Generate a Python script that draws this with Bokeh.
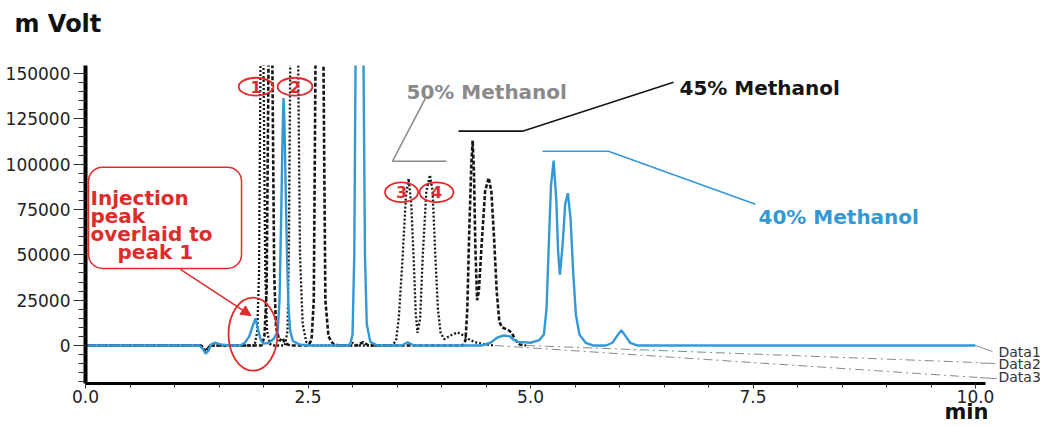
from bokeh.plotting import figure
from bokeh.models import (Range1d, FixedTicker, PrintfTickFormatter, Label, Title,
                          BoxAnnotation, Arrow, NormalHead)
from bokeh.embed import file_html
from bokeh.resources import INLINE

# ---------------- data ----------------
# Data1 : 40% Methanol (blue, solid)
time_40 = [0.00, 1.28, 1.32, 1.35, 1.38, 1.41, 1.45, 1.52, 1.62,
           1.74, 1.79, 1.84, 1.88, 1.91, 1.94, 1.97, 2.00, 2.06, 2.12, 2.16, 2.18,
           2.20, 2.215, 2.225, 2.235, 2.25, 2.265, 2.28, 2.30, 2.33, 2.40, 2.50,
           2.97, 3.00, 3.02, 3.034, 3.06, 3.08, 3.10, 3.124, 3.14, 3.16, 3.20, 3.28,
           3.55, 3.62, 3.69,
           4.45, 4.55, 4.63, 4.70, 4.77, 4.80, 4.86, 5.00, 5.10,
           5.15, 5.18, 5.20, 5.23, 5.26, 5.29, 5.31, 5.33, 5.36, 5.39, 5.42, 5.45,
           5.48, 5.51, 5.55, 5.62, 5.70,
           5.85, 5.92, 5.97, 6.02, 6.07, 6.12, 6.20, 10.00]
signal_40 = [0, 0, -2000, -4500, -3000, 500, 1500, 600, 0,
             0, 1500, 5000, 11000, 15000, 8500, 3000, 1000, 1500, 4000, 8000, 25000,
             75000, 118000, 136500, 124000, 85000, 48000, 22000, 8000, 2500, 600, 0,
             0, 6000, 50000, 154000, 340000, 400000, 340000, 154000, 50000, 12000, 2000, 0,
             0, 1800, 0,
             0, 1500, 4500, 5500, 5000, 3500, 2000, 1500, 3000,
             6000, 20000, 48000, 88000, 102000, 80000, 52000, 39000, 55000, 78000, 84000, 70000,
             40000, 17000, 6000, 1500, 0,
             0, 1500, 5000, 8500, 5000, 1500, 0, 0]

# Data2 : 45% Methanol (black, dashed)
time_45 = [0.00, 1.30, 1.35, 1.40, 1.98, 2.01, 2.035, 2.056, 2.078, 2.10, 2.12, 2.14,
           2.18, 2.21, 2.25, 2.30,
           2.50, 2.54, 2.565, 2.584, 2.63, 2.674, 2.695, 2.73, 2.78, 2.85, 3.05, 3.12, 3.18,
           4.24, 4.27, 4.29, 4.31, 4.335, 4.35, 4.365, 4.38, 4.40, 4.42, 4.45, 4.49,
           4.53, 4.56, 4.59, 4.62, 4.65, 4.68, 4.75, 4.79, 4.83, 4.88, 4.95, 10.02]
signal_45 = [0, 0, -3500, 0, 0, 5000, 30000, 154000, 300000, 154000, 40000, 10000,
             2500, 4000, 1000, 0,
             0, 3000, 25000, 154000, 350000, 154000, 25000, 5000, 1000, 0, 0, 1800, 0,
             0, 3000, 20000, 60000, 100000, 113000, 95000, 55000, 25000, 30000, 55000, 85000,
             92500, 85000, 60000, 30000, 13000, 10000, 8500, 7000, 3000, 500, 0, -9400]

# Data3 : 50% Methanol (black, dotted)
time_50 = [0.00, 1.30, 1.35, 1.40, 1.90, 1.93, 1.95, 1.966, 1.985, 2.00, 2.02, 2.04,
           2.07, 2.10,
           2.24, 2.27, 2.285, 2.30, 2.345, 2.39, 2.41, 2.44, 2.48, 2.55, 2.95, 3.00, 3.05,
           3.45, 3.49, 3.52, 3.56, 3.60, 3.63, 3.66, 3.69, 3.71, 3.73, 3.76, 3.79,
           3.83, 3.87, 3.90, 3.93, 3.96, 3.99, 4.03, 4.10, 4.18, 4.25, 4.32, 4.40,
           4.50, 4.60, 10.02]
signal_50 = [0, 0, -3000, 0, 0, 8000, 40000, 154000, 260000, 154000, 40000, 8000,
             1000, 0,
             0, 8000, 50000, 154000, 300000, 154000, 50000, 12000, 2000, 0, 0, 1500, 0,
             0, 3000, 15000, 46000, 82000, 92000, 78000, 45000, 18000, 7000, 15000, 50000,
             85000, 94000, 85000, 50000, 20000, 7000, 3500, 5500, 7200, 5500, 3000, 1500,
             500, 0, -17600]

series_names = ["Data1", "Data2", "Data3"]
legend_texts = ["40% Methanol", "45% Methanol", "50% Methanol"]
x_tick_values = [0.0, 2.5, 5.0, 7.5, 10.0]
y_tick_values = [0, 25000, 50000, 75000, 100000, 125000, 150000]

# ---------------- styles ----------------
BLUE = "#3399d6"
BLACK = "#151515"
GRAY = "#8a8a8a"
RED = "#e02b2b"
FONT = "DejaVu Sans"

tail_start_45 = 4.95
tail_start_50 = 4.60

p = figure(width=1054, height=427,
           x_range=Range1d(0, 969 / 89), y_range=Range1d(-20960, 154400),
           output_backend="svg", toolbar_location=None,
           min_border_left=85, min_border_right=0,
           min_border_top=65, min_border_bottom=44)
p.outline_line_color = None
p.grid.visible = False
p.background_fill_color = "white"

# axes
xax = p.xaxis[0]
yax = p.yaxis[0]
xax.ticker = FixedTicker(ticks=x_tick_values,
                         minor_ticks=[i * 0.5 for i in range(21)])
xax.formatter = PrintfTickFormatter(format="%.1f")
xax.bounds = (0, 10.11)
xax.axis_line_width = 3
xax.axis_line_color = "black"
xax.major_tick_out = 5
xax.major_tick_in = 0
xax.minor_tick_out = 4
xax.minor_tick_in = 0
xax.major_label_standoff = 1

yax.ticker = FixedTicker(ticks=y_tick_values,
                         minor_ticks=[-20000 + 5000 * i for i in range(35)])
yax.formatter = PrintfTickFormatter(format="%d")
yax.axis_line_width = 4
yax.axis_line_color = "black"
yax.major_tick_out = 12
yax.major_tick_in = 0
yax.minor_tick_out = 7
yax.minor_tick_in = 0
yax.major_label_standoff = 3

for ax in (xax, yax):
    ax.major_tick_line_color = "#333333"
    ax.minor_tick_line_color = "#333333"
    ax.major_label_text_font = FONT
    ax.major_label_text_font_size = "17px"
    ax.major_label_text_color = "#222222"

# titles: spacer (next to frame) then "m Volt" above it; "min" below-right
p.add_layout(Title(text=" ", text_font_size="2px", standoff=18), "above")
p.add_layout(Title(text="m Volt", align="left", offset=-71, standoff=12,
                   text_font=FONT, text_font_style="bold", text_font_size="24px",
                   text_color="#111111"), "above")
p.add_layout(Title(text="min", align="right", offset=66, standoff=-14,
                   vertical_align="middle",
                   text_font=FONT, text_font_style="bold", text_font_size="21px",
                   text_color="#111111"), "below")


def split(ts, vs, start):
    i = ts.index(start)
    return ts[:i + 1], vs[:i + 1], ts[i:], vs[i:]


m45t, m45v, t45t, t45v = split(time_45, signal_45, tail_start_45)
m50t, m50v, t50t, t50v = split(time_50, signal_50, tail_start_50)

# baseline drift tails (thin dash-dot gray)
p.line(t50t, t50v, line_color="#888888", line_width=1, line_dash="9 4 2 4")
p.line(t45t, t45v, line_color="#888888", line_width=1, line_dash="9 4 2 4")

# traces
p.line(m50t, m50v, line_color=BLACK, line_width=2.3, line_dash="2 2")
p.line(m45t, m45v, line_color=BLACK, line_width=2.6, line_dash="4 2")
p.line(time_40, signal_40, line_color=BLUE, line_width=2.4)

# leaders to Data labels
p.line([time_40[-1], 10.19], [signal_40[-1], -3300], line_color="#888888", line_width=1)
p.line([10.05, 10.22], [-9700, -9900], line_color="#888888", line_width=1)
p.line([10.05, 10.24], [-17700, -18300], line_color="#888888", line_width=1)

data_label_y = [-3860, -10480, -17300]
for name, yy in zip(series_names, data_label_y):
    p.add_layout(Label(x=10.258, y=yy, text=name, text_font=FONT,
                       text_font_size="14px", text_color="#333333",
                       text_baseline="middle"))

# methanol annotations
p.line([3.820, 3.449, 4.056], [136400, 101600, 101600], line_color=GRAY, line_width=1.6)
p.line([6.607, 4.910, 4.191], [145200, 118200, 118200], line_color=BLACK, line_width=1.6)
p.line([5.135, 5.876, 7.528], [107100, 107100, 77900], line_color=BLUE, line_width=1.6)

p.add_layout(Label(x=3.607, y=139700, text=legend_texts[2], text_font=FONT,
                   text_font_style="bold", text_font_size="20px", text_color=GRAY,
                   text_baseline="alphabetic"))
p.add_layout(Label(x=6.674, y=142200, text=legend_texts[1], text_font=FONT,
                   text_font_style="bold", text_font_size="20px", text_color=BLACK,
                   text_baseline="alphabetic"))
p.add_layout(Label(x=7.562, y=70700, text=legend_texts[0], text_font=FONT,
                   text_font_style="bold", text_font_size="20px", text_color=BLUE,
                   text_baseline="alphabetic"))

# injection callout
p.add_layout(BoxAnnotation(left=0.034, right=1.753, top=98300, bottom=42500,
                           fill_color=None, fill_alpha=0, line_color=RED,
                           line_alpha=1.0, line_width=1.5, border_radius=14))
callout = [("Injection", 0.056, 81200), ("peak", 0.056, 71200),
           ("overlaid to", 0.056, 61300), ("peak 1", 0.36, 51400)]
for txt, xx, yy in callout:
    p.add_layout(Label(x=xx, y=yy, text=txt, text_font=FONT, text_font_style="bold",
                       text_font_size="20px", text_color=RED,
                       text_baseline="alphabetic"))
p.add_layout(Arrow(end=NormalHead(size=10, fill_color=RED, line_color=RED),
                   x_start=1.067, y_start=42000, x_end=1.86, y_end=16500,
                   line_color=RED, line_width=1.5))
p.ellipse(x=[1.882], y=[6300], width=[0.55], height=[40300],
          fill_color=None, line_color=RED, line_width=1.8)

# numbered peak circles
circ_x = [1.916, 2.354, 3.551, 3.944]
circ_y = [142700, 142700, 84500, 84500]
circ_t = ["1", "2", "3", "4"]
p.ellipse(x=circ_x, y=circ_y, width=[0.39, 0.39, 0.37, 0.38],
          height=[9900, 9900, 11000, 11000],
          fill_color=None, line_color=RED, line_width=1.8)
for xx, yy, tt in zip(circ_x, circ_y, circ_t):
    p.add_layout(Label(x=xx, y=yy, text=tt, text_font=FONT, text_font_style="bold",
                       text_font_size="16px", text_color=RED,
                       text_align="center", text_baseline="middle"))

open("out.html", "w").write(file_html(p, INLINE))
